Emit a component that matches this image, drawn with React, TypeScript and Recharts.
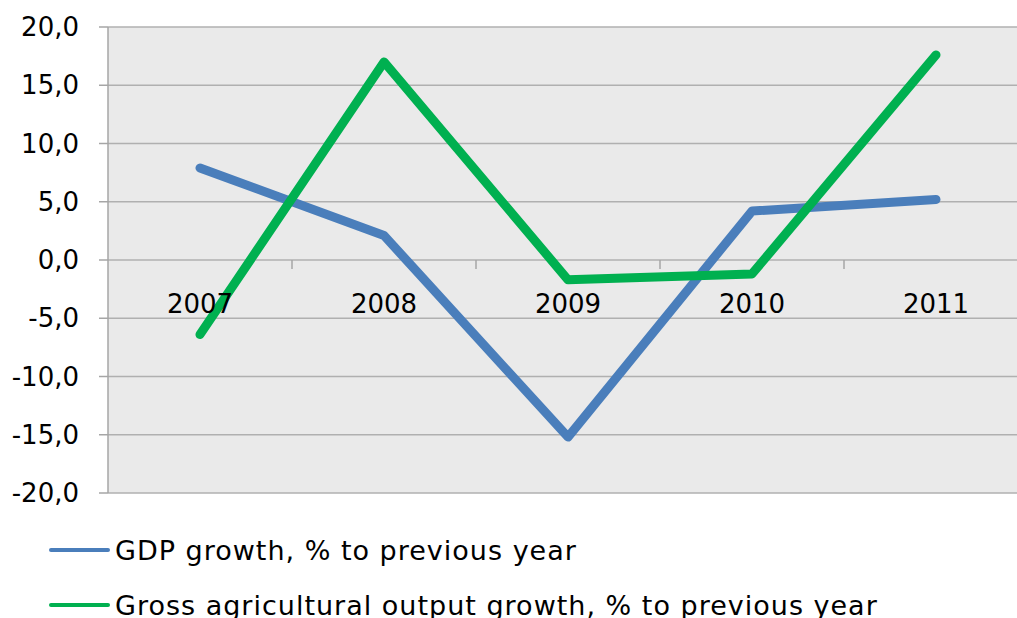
import { LineChart, Line, XAxis, YAxis, CartesianGrid } from 'recharts';

const years = ['2007', '2008', '2009', '2010', '2011'];
const gdpGrowth = [7.9, 2.1, -15.2, 4.2, 5.2];
const agriGrowth = [-6.4, 17.0, -1.7, -1.2, 17.6];
const yTicks = [-20, -15, -10, -5, 0, 5, 10, 15, 20];

const seriesNames = {
  gdp: 'GDP growth, % to previous year',
  agri: 'Gross agricultural output growth, % to previous year',
};

const data = years.map((year, i) => ({
  year,
  gdp: gdpGrowth[i],
  agri: agriGrowth[i],
}));

const FONT = '"DejaVu Sans", sans-serif';
const TOP = 27;
const LEFT = 108;
const PLOT_W = 920;
const PLOT_H = 466;
const X_AXIS_H = 30;
const ZERO_Y = TOP + PLOT_H / 2;
const BAND = PLOT_W / years.length;

// category labels and tick marks sit on the zero line, like the Excel original
const CategoryTick = (props: any) => {
  const { x, payload } = props;
  return (
    <g>
      <line x1={x + BAND / 2} y1={ZERO_Y} x2={x + BAND / 2} y2={ZERO_Y + 9} stroke="#a6a6a6" strokeWidth={1.5} />
      <text x={x} y={ZERO_Y + 45} textAnchor="middle" dominantBaseline="middle" fontSize={26} fontFamily={FONT} fill="#000">
        {payload.value}
      </text>
    </g>
  );
};

const legendItems = [
  { name: seriesNames.gdp, color: '#4a7ebb' },
  { name: seriesNames.agri, color: '#00b050' },
];

export default function App() {
  return (
    <div style={{ position: 'absolute', left: 0, top: 0, width: 1017, height: 618, overflow: 'hidden', background: '#fff' }}>
      <LineChart
        width={LEFT + PLOT_W + 2}
        height={618}
        data={data}
        margin={{ top: TOP, right: 2, bottom: 618 - TOP - PLOT_H - X_AXIS_H, left: 0 }}
      >
        <CartesianGrid vertical={false} stroke="#b0b0b0" strokeWidth={1.5} fill="#eaeaea" />
        <XAxis
          dataKey="year"
          scale="band"
          height={X_AXIS_H}
          axisLine={false}
          tickLine={false}
          interval={0}
          tick={(p: any) => <CategoryTick {...p} />}
        />
        <YAxis
          width={LEFT}
          domain={[-20, 20]}
          ticks={yTicks}
          interval={0}
          tickFormatter={(v: number) => v.toFixed(1).replace('.', ',')}
          axisLine={{ stroke: '#a6a6a6', strokeWidth: 1.5 }}
          tickLine={{ stroke: '#a6a6a6', strokeWidth: 1.5 }}
          tickSize={9}
          tickMargin={20}
          tick={{ fontSize: 26, fontFamily: FONT, fill: '#000' }}
        />
        <Line
          dataKey="gdp"
          name={seriesNames.gdp}
          stroke="#4a7ebb"
          strokeWidth={9}
          strokeLinecap="round"
          strokeLinejoin="round"
          dot={false}
          isAnimationActive={false}
        />
        <Line
          dataKey="agri"
          name={seriesNames.agri}
          stroke="#00b050"
          strokeWidth={9}
          strokeLinecap="round"
          strokeLinejoin="round"
          dot={false}
          isAnimationActive={false}
        />
      </LineChart>
      {legendItems.map((item, i) => (
        <div
          key={item.name}
          style={{
            position: 'absolute',
            left: 49,
            top: 550 + i * 55 - 18,
            height: 36,
            display: 'flex',
            alignItems: 'center',
            fontFamily: FONT,
            fontSize: 27,
            letterSpacing: 1,
            color: '#000',
            whiteSpace: 'nowrap',
          }}
        >
          <span style={{ display: 'inline-block', width: 61, height: 4, background: item.color, borderRadius: 2, marginRight: 5 }} />
          <span>{item.name}</span>
        </div>
      ))}
    </div>
  );
}
